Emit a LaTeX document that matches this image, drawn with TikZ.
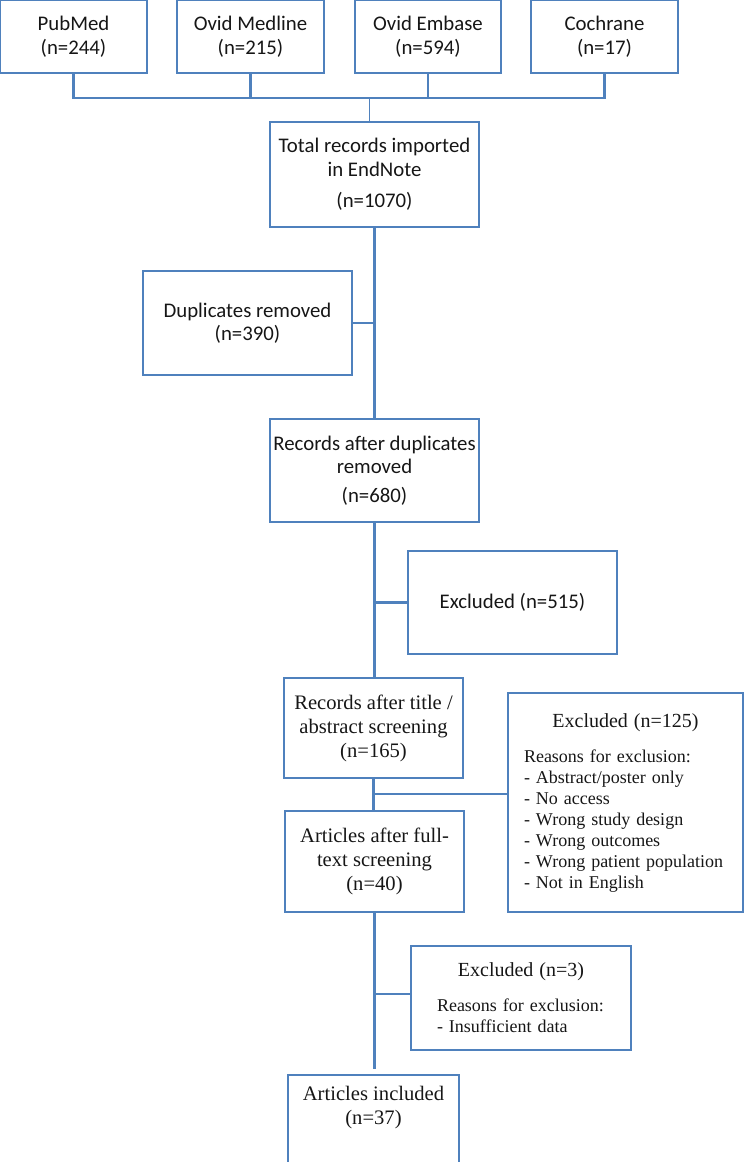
\documentclass[tikz,border=0pt]{standalone}
\usepackage{fontspec}
\setmainfont{Liberation Serif}
\newfontfamily\calibri{Carlito}
\usepackage{xcolor}
\definecolor{boxblue}{RGB}{79,129,189}
\definecolor{inkgray}{RGB}{22,22,22}

\begin{document}
\begin{tikzpicture}[
    x=1pt, y=-1pt,
  every node/.style = {shape=rectangle, draw=boxblue, line width=2.2pt,
    align=center, text=inkgray, inner sep=0pt},
  sans/.style = {font=\calibri\fontsize{20.8}{23.5}\selectfont},
  serif/.style = {font=\fontsize{20.6}{24}\selectfont},
  reasons/.style = {font=\fontsize{18}{21}\selectfont, align=left}]
    \tikzstyle{link}=[draw=boxblue, line width=2.2pt]
  \useasboundingbox (0,0) rectangle (744,1162);
  % databases
  \node[sans, minimum width=147, minimum height=73] (pubmed) at (73.5,36.5) {PubMed\\(n=244)};
  \node[sans, minimum width=147, minimum height=73] (medline) at (250.5,36.5) {Ovid Medline\\(n=215)};
  \node[sans, minimum width=146, minimum height=73] (embase) at (428,36.5) {Ovid Embase\\(n=594)};
  \node[sans, minimum width=147, minimum height=73] (cochrane) at (604.5,36.5) {Cochrane\\(n=17)};
  % identification
  \node[sans, minimum width=209, minimum height=105] (total) at (374.5,174.5)
    {Total records imported\\in EndNote\\[8pt](n=1070)};
  \node[sans, minimum width=209, minimum height=104] (dup) at (247.5,323) {Duplicates removed\\(n=390)};
  \node[sans, minimum width=209, minimum height=103] (recdup) at (374.5,470.5)
    {Records after duplicates\\removed\\[5pt](n=680)};
  \node[sans, minimum width=209, minimum height=103] (excl515) at (512.5,602.5) {Excluded (n=515)};
  % screening
  \node[serif, minimum width=179, minimum height=100] (rectitle) at (373.5,728)
    {Records after title /\\abstract screening\\(n=165)};
  \node[reasons, minimum width=235, minimum height=219, text width=203, inner xsep=16pt] (excl125) at (625.5,802.5)
    {{\centering\fontsize{20}{24}\selectfont Excluded (n=125)\par}\vspace{14pt}%
     Reasons for exclusion:\\- Abstract/poster only\\- No access\\- Wrong study design\\%
     - Wrong outcomes\\- Wrong patient population\\- Not in English};
  \node[serif, minimum width=179, minimum height=101] (artfull) at (374.5,861.5)
    {Articles after full-\\text screening\\(n=40)};
  \node[reasons, minimum width=220, minimum height=104, text width=168, inner xsep=26pt] (excl3) at (521,998)
    {{\centering\fontsize{20}{24}\selectfont Excluded (n=3)\par}\vspace{14pt}%
     Reasons for exclusion:\\- Insufficient data};
  % included
  \node[minimum width=171, minimum height=100] (included) at (373.5,1125) {};
  \node[serif, draw=none] (includedtext) at (373.5,1108) {Articles included\\(n=37)};
  % connectors
  \coordinate (hub) at (369,97);
  \coordinate (stop) at (374,1069);
  \draw[link] (pubmed.south) -- ++(0,24) -| (cochrane.south);
  \draw[link] (medline.south) -- ++(0,24);
  \draw[link] (embase.south) -- ++(0,24);
  \draw[link, line width=1pt] (hub) -- (hub |- total.north);
  \draw[link] (total.south) -- (total.south |- recdup.north);
  \draw[link] (dup.east) -- (dup.east -| total.south);
  \draw[link] (recdup.south) -- (recdup.south |- rectitle.north);
  \draw[link] (excl515.west) -- (excl515.west -| recdup.south);
  \draw[link] (rectitle.south) -- (rectitle.south |- artfull.north);
  \draw[link] ([yshift=8.5pt]excl125.west) -- ([yshift=8.5pt]excl125.west -| rectitle.south);
  \draw[link] (artfull.south) -- (artfull.south |- stop);
  \draw[link] ([yshift=4pt]excl3.west) -- ([yshift=4pt]excl3.west -| artfull.south);
\end{tikzpicture}
\end{document}
